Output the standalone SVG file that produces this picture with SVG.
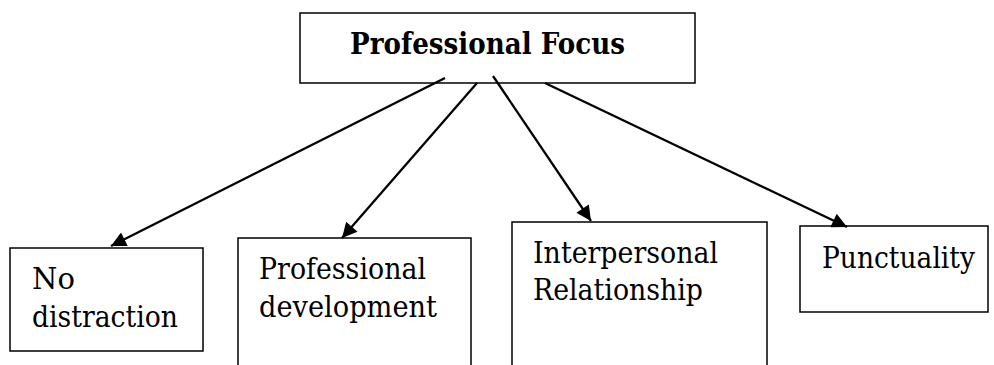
<svg xmlns="http://www.w3.org/2000/svg" width="994" height="365" viewBox="0 0 994 365">
  <style>
    .box { fill: #fff; stroke: #000; stroke-width: 1.5; }
    .lbl { font-family: "DejaVu Serif", "Liberation Serif", serif; font-size: 29px; fill: #000; }
    .ttl { font-family: "DejaVu Serif", "Liberation Serif", serif; font-size: 30px; font-weight: bold; fill: #000; }
    .edge { stroke: #000; stroke-width: 2.3; fill: none; marker-end: url(#arrow); }
  </style>
  <defs>
    <marker id="arrow" viewBox="0 0 10 10" refX="10" refY="5" markerWidth="7.5" markerHeight="6.5" markerUnits="strokeWidth" orient="auto">
      <path d="M0,0 L10,5 L0,10 z" fill="#000"/>
    </marker>
  </defs>

  <rect width="994" height="365" fill="#fff"/>

  <g id="root">
    <rect class="box" x="300" y="13" width="395" height="70"/>
    <text class="ttl" x="350" y="54" textLength="275" lengthAdjust="spacingAndGlyphs">Professional Focus</text>
  </g>

  <g id="no-distraction">
    <rect class="box" x="10" y="248" width="193" height="103"/>
    <text class="lbl" x="32" y="289">No</text>
    <text class="lbl" x="32" y="327" textLength="146" lengthAdjust="spacingAndGlyphs">distraction</text>
  </g>

  <g id="professional-development">
    <rect class="box" x="238" y="238" width="233" height="140"/>
    <text class="lbl" x="259" y="279" textLength="167" lengthAdjust="spacingAndGlyphs">Professional</text>
    <text class="lbl" x="259" y="317" textLength="178" lengthAdjust="spacingAndGlyphs">development</text>
  </g>

  <g id="interpersonal-relationship">
    <rect class="box" x="512" y="222" width="255" height="160"/>
    <text class="lbl" x="533" y="263" textLength="185" lengthAdjust="spacingAndGlyphs">Interpersonal</text>
    <text class="lbl" x="533" y="300" textLength="170" lengthAdjust="spacingAndGlyphs">Relationship</text>
  </g>

  <g id="punctuality">
    <rect class="box" x="800" y="226" width="188" height="86"/>
    <text class="lbl" x="822" y="268" textLength="153" lengthAdjust="spacingAndGlyphs">Punctuality</text>
  </g>

  <g id="connectors">
    <line class="edge" x1="445" y1="78" x2="111" y2="246"/>
    <line class="edge" x1="477" y1="83" x2="342" y2="238"/>
    <line class="edge" x1="493" y1="76" x2="591" y2="221"/>
    <line class="edge" x1="545" y1="83" x2="847" y2="227"/>
  </g>
</svg>
